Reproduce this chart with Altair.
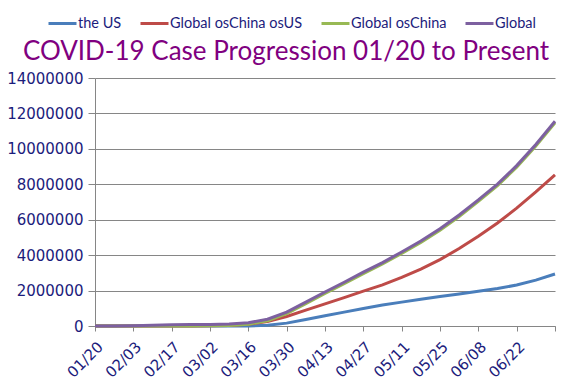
import altair as alt
import pandas as pd

dates = ["2020-01-20", "2020-01-27", "2020-02-03", "2020-02-10", "2020-02-17",
         "2020-02-24", "2020-03-02", "2020-03-09", "2020-03-16", "2020-03-23",
         "2020-03-30", "2020-04-06", "2020-04-13", "2020-04-20", "2020-04-27",
         "2020-05-04", "2020-05-11", "2020-05-18", "2020-05-25", "2020-06-01",
         "2020-06-08", "2020-06-15", "2020-06-22", "2020-06-29", "2020-07-06"]

the_us = [1, 5, 11, 12, 15, 51, 100, 600, 4630, 43700, 161800, 366700, 580600,
          784300, 988200, 1180000, 1347000, 1508000, 1662000, 1811000, 1962000,
          2114000, 2312000, 2590000, 2938000]

global_oschina_osus = [3, 36, 179, 378, 875, 2269, 10050, 32250, 95790, 256300,
                       538150, 896270, 1253190, 1603850, 1968890, 2318030,
                       2746990, 3208940, 3747900, 4371850, 5072800, 5812620,
                       6656350, 7570220, 8537050]

global_oschina = [4, 41, 190, 390, 890, 2320, 10150, 32850, 100420, 300000,
                  699950, 1262970, 1833790, 2388150, 2957090, 3498030, 4093990,
                  4716940, 5409900, 6182850, 7034800, 7926620, 8968350,
                  10160220, 11475050]

global_all = [282, 2927, 20630, 43100, 73330, 79560, 90300, 113600, 181500,
              381600, 782400, 1346000, 1917000, 2472000, 3041000, 3582000,
              4178000, 4801000, 5494000, 6267000, 7119000, 8011000, 9053000,
              10245000, 11560000]

series_names = ["the US", "Global osChina osUS", "Global osChina", "Global"]
series_colors = ["#4A7EBB", "#BE4B48", "#98B954", "#7D60A0"]

tick_dates = ["2020-01-20", "2020-02-03", "2020-02-17", "2020-03-02", "2020-03-16",
              "2020-03-30", "2020-04-13", "2020-04-27", "2020-05-11", "2020-05-25",
              "2020-06-08", "2020-06-22", "2020-07-06"]
y_ticks = [0, 2000000, 4000000, 6000000, 8000000, 10000000, 12000000, 14000000]

title_text = "COVID-19 Case Progression 01/20 to Present"

rows = []
for name, vals in zip(series_names, [the_us, global_oschina_osus, global_oschina, global_all]):
    for d, v in zip(dates, vals):
        rows.append({"date": d, "series": name, "cases": v})
df = pd.DataFrame(rows)

def ms(d):
    return int(pd.Timestamp(d, tz="UTC").value // 10**6)

tick_ms = [ms(d) for d in tick_dates]
last_ms = tick_ms[-1]

navy = "#1C1C7C"
grid = "#868686"

lines = alt.Chart(df).mark_line(strokeWidth=3).encode(
    x=alt.X("date:T",
            scale=alt.Scale(type="utc", domain=[tick_ms[0], last_ms], nice=False),
            axis=alt.Axis(values=tick_ms, title=None, grid=False,
                          labelAngle=-45, labelAlign="right", labelBaseline="top",
                          labelExpr=f"datum.value >= {last_ms} ? '' : utcFormat(datum.value, '%m/%d')",
                          labelFont="DejaVu Sans", labelFontSize=15, labelColor=navy,
                          labelPadding=8, tickSize=5, tickColor=grid,
                          domainColor=grid, labelOverlap=False, labelFlush=False)),
    y=alt.Y("cases:Q",
            scale=alt.Scale(domain=[0, 14000000], nice=False),
            axis=alt.Axis(values=y_ticks, format="d", title=None,
                          labelFont="DejaVu Sans", labelFontSize=15, labelColor=navy,
                          labelPadding=5, tickSize=7, tickColor=grid,
                          gridColor=grid, domainColor=grid)),
    color=alt.Color("series:N",
                    scale=alt.Scale(domain=series_names, range=series_colors),
                    legend=alt.Legend(orient="none", legendX=-48, legendY=-70,
                                      direction="horizontal", title=None,
                                      symbolType="stroke", symbolSize=784,
                                      symbolStrokeWidth=3, labelOffset=0,
                                      labelFont="Lato", labelFontSize=14.5,
                                      labelColor=navy, columnPadding=12,
                                      labelLimit=300)),
)

title = alt.Chart(pd.DataFrame({"t": [title_text]})).mark_text(
    font="Lato", fontSize=26, color="#800080", align="center", baseline="alphabetic"
).encode(text="t:N", x=alt.value(191), y=alt.value(-18))

chart = alt.layer(lines, title).properties(
    width=460, height=248,
    padding={"left": 87, "top": 70, "right": 17, "bottom": 63},
    autosize=alt.AutoSizeParams(type="none"),
).configure_view(stroke=None)

chart.save("out.html", embed_options={"renderer": "svg", "actions": False})
